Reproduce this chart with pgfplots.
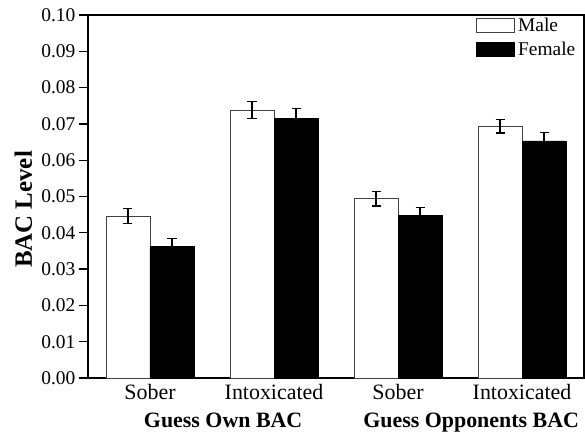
\documentclass[border=0pt]{standalone}
\usepackage{pgfplots}
\pgfplotsset{compat=1.18}
\usepackage{fontspec}
\setmainfont{Liberation Serif}
\begin{document}
\begin{tikzpicture}
\begin{axis}[
  width=496bp, height=363bp, scale only axis,
  ybar=0pt, bar width=44bp,
  xmin=-0.5, xmax=3.5,
  ymin=0, ymax=0.10,
  ytick={0,0.01,...,0.1},
  /pgf/number format/assume math mode=true,
  yticklabel style={/pgf/number format/fixed, /pgf/number format/fixed zerofill, /pgf/number format/precision=2,
    font=\fontsize{19.5}{21}\selectfont, inner sep=1.5bp, xshift=-2bp},
  xtick={0,1,2,3},
  xticklabels={Sober,Intoxicated,Sober,Intoxicated},
  xticklabel style={font=\fontsize{22}{24}\selectfont, anchor=base, yshift=-12bp},
  x tick style={draw=none},
  ytick pos=left,
  tick align=outside,
  major tick length=9bp,
  tick style={black, line width=1.3pt},
  axis line style={line width=1.4pt},
  ylabel={\textbf{BAC Level}},
  ylabel style={font=\fontsize{25}{27}\selectfont, at={(rel axis cs:0,0.5)}, anchor=base, yshift=56bp, xshift=-13bp},
  legend cell align=left,
  legend style={draw=none, fill=none, at={(rel axis cs:1,1)}, anchor=north east,
    xshift=-7bp, yshift=-1bp,
    font=\fontsize{19.5}{22}\selectfont, row sep=6bp, inner sep=0bp,
    nodes={inner sep=1.5bp}},
  legend image code/.code={\draw[#1, line width=0.7pt] (0bp,-7bp) rectangle (38bp,7bp);},
  clip=false,
]
\addplot+[fill=white, draw=black!75, line width=0.8pt,
  error bars/.cd, y dir=both, y explicit,
  error bar style={black, line width=1.3pt},
  error mark options={rotate=90, mark size=4.5bp, line width=1.3pt, black}]
  coordinates {(0,0.0446) +- (0,0.0020) (1,0.0738) +- (0,0.0023) (2,0.0494) +- (0,0.0020) (3,0.0694) +- (0,0.0019)};
\addplot+[fill=black, draw=black, line width=0.8pt,
  error bars/.cd, y dir=both, y explicit,
  error bar style={black, line width=1.3pt},
  error mark options={rotate=90, mark size=4.5bp, line width=1.3pt, black}]
  coordinates {(0,0.0362) +- (0,0.0023) (1,0.0714) +- (0,0.0028) (2,0.0447) +- (0,0.0023) (3,0.0653) +- (0,0.0023)};
\legend{\hspace{2bp}Male,\hspace{2bp}Female}
\node[font=\fontsize{22}{24}\selectfont\bfseries, anchor=base] at ([yshift=-49bp]axis cs:0.59,0) {Guess Own BAC};
\node[font=\fontsize{22}{24}\selectfont\bfseries, anchor=base] at ([yshift=-49bp]axis cs:2.59,0) {Guess Opponents BAC};
\coordinate (sw) at (rel axis cs:0,0);
\coordinate (ne) at (rel axis cs:1,1);
\end{axis}
\pgfresetboundingbox
\path ([shift={(-88bp,-54bp)}]sw) rectangle ([shift={(1bp,15bp)}]ne);
\end{tikzpicture}
\end{document}
